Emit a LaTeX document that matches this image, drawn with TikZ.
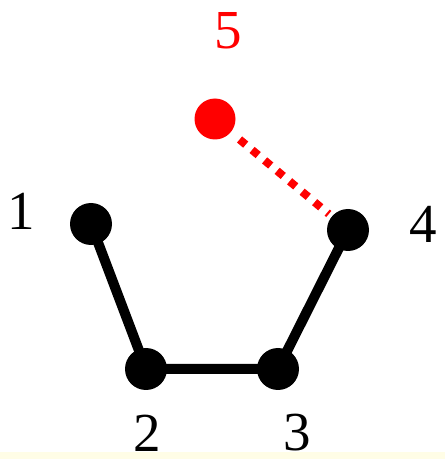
\documentclass[tikz,border=0pt]{standalone}
\usepackage{fontspec}
\setmainfont{Liberation Serif}
\begin{document}
\begin{tikzpicture}[x=1pt,y=1pt,
  vtx/.style={circle,fill=black,inner sep=0pt,minimum size=42pt},
  redvtx/.style={circle,fill=red,inner sep=0pt,minimum size=41pt},
  lbl/.style={font=\fontsize{55}{60}\selectfont,inner sep=0pt},
  edge/.style={line width=10pt,black},
  reddot/.style={line width=8pt,red,dash pattern=on 8pt off 8.3pt}]
\useasboundingbox (0,0) rectangle (445,459);
\fill[fill={rgb,255:red,255;green,253;blue,230}] (0,0) rectangle (445,7);
\node[vtx] (n1) at (91,235) {};
\node[vtx] (n2) at (146,90) {};
\node[vtx] (n3) at (278,90) {};
\node[vtx] (n4) at (348,229) {};
\node[redvtx] (n5) at (215,340) {};
\draw[edge] (n1.center) -- (n2.center) -- (n3.center) -- (n4.center);
\draw[reddot,shorten <=32pt,shorten >=25pt] (n5.center) -- (n4.center);
\node[lbl] (l1) at (21,248) {1};
\node[lbl] (l2) at (147,26) {2};
\node[lbl] (l3) at (297,26) {3};
\node[lbl] (l4) at (423,235) {4};
\node[lbl,text=red] (l5) at (228,428) {5};
\end{tikzpicture}
\end{document}
